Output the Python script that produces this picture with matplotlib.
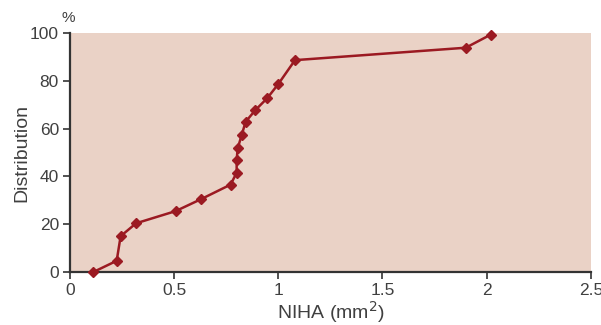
import matplotlib.pyplot as plt

# NIHA (mm^2) vs cumulative distribution (%)
niha = [0.112, 0.224, 0.243, 0.317, 0.507, 0.629, 0.771, 0.80, 0.80, 0.805,
        0.824, 0.843, 0.89, 0.947, 1.0, 1.08, 1.90, 2.02]
distribution = [0, 4.7, 15, 20.4, 25.5, 30.5, 36.6, 41.6, 46.9, 51.8,
                57.3, 62.9, 67.8, 72.8, 78.7, 88.7, 93.9, 99.4]
x_ticks = [0, 0.5, 1, 1.5, 2, 2.5]
x_labels = ["0", "0.5", "1", "1.5", "2", "2.5"]
y_ticks = [0, 20, 40, 60, 80, 100]

LINE_COLOR = "#9b1a22"
BG_COLOR = "#ead2c6"
TEXT_COLOR = "#404040"

plt.rcParams["font.family"] = ["Liberation Sans", "DejaVu Sans"]

fig = plt.figure(figsize=(6.01, 3.25), dpi=100)
ax = fig.add_axes([0.1165, 0.163, 0.8665, 0.735])
ax.set_facecolor(BG_COLOR)

ax.plot(niha, distribution, color=LINE_COLOR, linewidth=1.8,
        marker="D", markersize=5, clip_on=False, zorder=3)

ax.set_xlim(0, 2.5)
ax.set_ylim(0, 100)
ax.set_xticks(x_ticks)
ax.set_xticklabels(x_labels)
ax.set_yticks(y_ticks)

for side in ("top", "right"):
    ax.spines[side].set_visible(False)
for side in ("left", "bottom"):
    ax.spines[side].set_color("#333333")
    ax.spines[side].set_linewidth(1.6)

ax.tick_params(direction="out", length=5, width=1.2, color="#333333",
               labelsize=12.5, labelcolor=TEXT_COLOR, pad=3)

ax.set_ylabel("Distribution", fontsize=14, color=TEXT_COLOR, labelpad=0)
ax.set_xlabel("NIHA (mm$^2$)", fontsize=14, color=TEXT_COLOR, labelpad=1)
fig.text(68 / 601, 1 - 18 / 325, "%", fontsize=11, color=TEXT_COLOR,
         ha="center", va="center")

fig.savefig("out.png", dpi=100)
